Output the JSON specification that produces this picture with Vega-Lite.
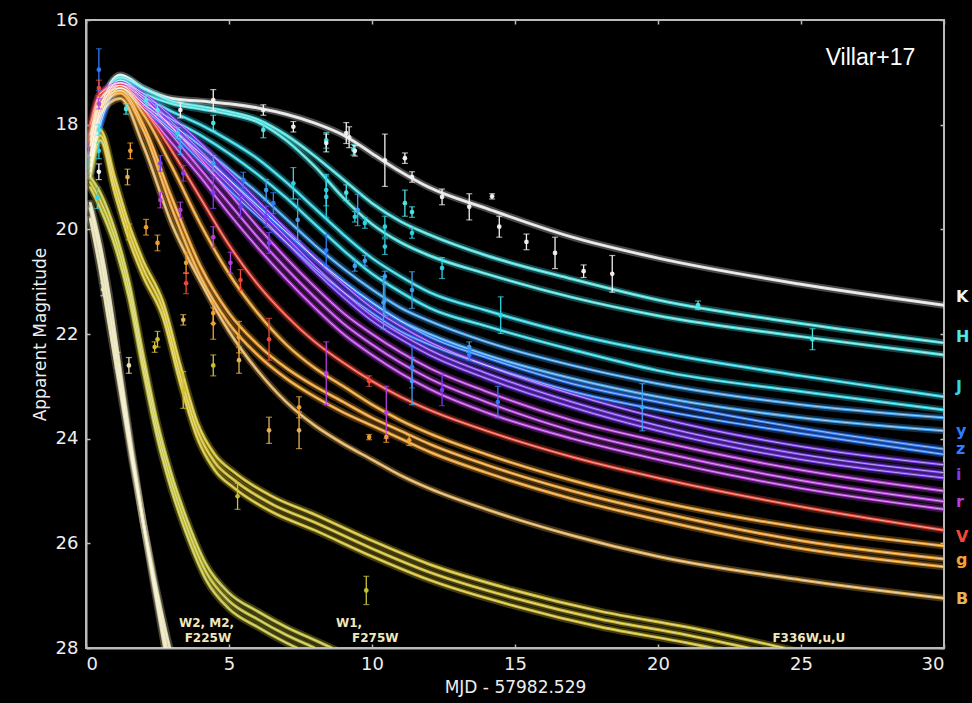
{
"$schema": "https://vega.github.io/schema/vega-lite/v6.json",
"width": 858, "height": 628,
"autosize": {"type": "none"},
"padding": {"left": 86, "top": 20, "right": 28, "bottom": 55},
"background": "#000000",
"config": {
  "view": {"stroke": "#bbbbbb", "strokeWidth": 2},
  "axis": {"domainColor": "#bbbbbb", "domainWidth": 2, "tickColor": "#bbbbbb", "tickSize": -4, "tickWidth": 1.5, "grid": false,
    "labelColor": "#eeeeee", "labelFont": "DejaVu Sans", "labelFontSize": 18, "labelPadding": 8,
    "titleColor": "#eeeeee", "titleFont": "DejaVu Sans", "titleFontSize": 17, "titleFontWeight": "normal"}
},
"resolve": {"axis": {"x": "independent", "y": "independent"}},
"datasets": {
"curves": [
{"c":"K","b":"K","x":0.15,"m":18.6},{"c":"K","b":"K","x":0.5,"m":17.7},{"c":"K","b":"K","x":1.2,"m":17.05},{"c":"K","b":"K","x":2,"m":17.3},{"c":"K","b":"K","x":3,"m":17.5},{"c":"K","b":"K","x":4,"m":17.55},{"c":"K","b":"K","x":5,"m":17.6},{"c":"K","b":"K","x":6,"m":17.68},{"c":"K","b":"K","x":7,"m":17.8},{"c":"K","b":"K","x":8,"m":17.97},{"c":"K","b":"K","x":9,"m":18.2},{"c":"K","b":"K","x":10,"m":18.55},{"c":"K","b":"K","x":11,"m":18.9},{"c":"K","b":"K","x":12,"m":19.2},{"c":"K","b":"K","x":14,"m":19.6},{"c":"K","b":"K","x":17,"m":20.15},{"c":"K","b":"K","x":20,"m":20.55},{"c":"K","b":"K","x":25,"m":21.05},{"c":"K","b":"K","x":30,"m":21.45},
{"c":"H1","b":"H","x":0.15,"m":18.6},{"c":"H1","b":"H","x":0.5,"m":17.7},{"c":"H1","b":"H","x":1.2,"m":17.1},{"c":"H1","b":"H","x":2,"m":17.3},{"c":"H1","b":"H","x":3,"m":17.55},{"c":"H1","b":"H","x":4,"m":17.65},{"c":"H1","b":"H","x":5,"m":17.75},{"c":"H1","b":"H","x":6,"m":17.9},{"c":"H1","b":"H","x":7,"m":18.2},{"c":"H1","b":"H","x":8,"m":18.6},{"c":"H1","b":"H","x":9,"m":19.05},{"c":"H1","b":"H","x":10,"m":19.5},{"c":"H1","b":"H","x":11,"m":19.85},{"c":"H1","b":"H","x":12,"m":20.1},{"c":"H1","b":"H","x":14,"m":20.5},{"c":"H1","b":"H","x":17,"m":20.95},{"c":"H1","b":"H","x":20,"m":21.35},{"c":"H1","b":"H","x":25,"m":21.8},{"c":"H1","b":"H","x":30,"m":22.17},
{"c":"H2","b":"H","x":0.15,"m":18.7},{"c":"H2","b":"H","x":0.5,"m":17.8},{"c":"H2","b":"H","x":1.2,"m":17.15},{"c":"H2","b":"H","x":2,"m":17.4},{"c":"H2","b":"H","x":3,"m":17.6},{"c":"H2","b":"H","x":4,"m":17.7},{"c":"H2","b":"H","x":5,"m":17.8},{"c":"H2","b":"H","x":6,"m":17.95},{"c":"H2","b":"H","x":7,"m":18.3},{"c":"H2","b":"H","x":8,"m":18.8},{"c":"H2","b":"H","x":9,"m":19.4},{"c":"H2","b":"H","x":10,"m":19.9},{"c":"H2","b":"H","x":11,"m":20.25},{"c":"H2","b":"H","x":12,"m":20.5},{"c":"H2","b":"H","x":14,"m":20.85},{"c":"H2","b":"H","x":17,"m":21.3},{"c":"H2","b":"H","x":20,"m":21.65},{"c":"H2","b":"H","x":25,"m":22.05},{"c":"H2","b":"H","x":30,"m":22.4},
{"c":"J1","b":"J","x":0.15,"m":18.7},{"c":"J1","b":"J","x":0.5,"m":17.8},{"c":"J1","b":"J","x":1.2,"m":17.15},{"c":"J1","b":"J","x":2,"m":17.45},{"c":"J1","b":"J","x":3,"m":17.75},{"c":"J1","b":"J","x":4,"m":18.0},{"c":"J1","b":"J","x":5,"m":18.3},{"c":"J1","b":"J","x":6,"m":18.65},{"c":"J1","b":"J","x":7,"m":19.1},{"c":"J1","b":"J","x":8,"m":19.6},{"c":"J1","b":"J","x":9,"m":20.1},{"c":"J1","b":"J","x":10,"m":20.55},{"c":"J1","b":"J","x":11,"m":20.9},{"c":"J1","b":"J","x":12,"m":21.2},{"c":"J1","b":"J","x":14,"m":21.55},{"c":"J1","b":"J","x":17,"m":22.0},{"c":"J1","b":"J","x":20,"m":22.35},{"c":"J1","b":"J","x":25,"m":22.8},{"c":"J1","b":"J","x":30,"m":23.2},
{"c":"J2","b":"J","x":0.15,"m":18.8},{"c":"J2","b":"J","x":0.5,"m":17.9},{"c":"J2","b":"J","x":1.2,"m":17.2},{"c":"J2","b":"J","x":2,"m":17.55},{"c":"J2","b":"J","x":3,"m":17.9},{"c":"J2","b":"J","x":4,"m":18.2},{"c":"J2","b":"J","x":5,"m":18.55},{"c":"J2","b":"J","x":6,"m":18.95},{"c":"J2","b":"J","x":7,"m":19.4},{"c":"J2","b":"J","x":8,"m":19.9},{"c":"J2","b":"J","x":9,"m":20.4},{"c":"J2","b":"J","x":10,"m":20.85},{"c":"J2","b":"J","x":11,"m":21.2},{"c":"J2","b":"J","x":12,"m":21.5},{"c":"J2","b":"J","x":14,"m":21.85},{"c":"J2","b":"J","x":17,"m":22.3},{"c":"J2","b":"J","x":20,"m":22.7},{"c":"J2","b":"J","x":25,"m":23.1},{"c":"J2","b":"J","x":30,"m":23.45},
{"c":"y1","b":"y","x":0.15,"m":18.8},{"c":"y1","b":"y","x":0.5,"m":17.9},{"c":"y1","b":"y","x":1.2,"m":17.25},{"c":"y1","b":"y","x":2,"m":17.6},{"c":"y1","b":"y","x":3,"m":18.0},{"c":"y1","b":"y","x":4,"m":18.4},{"c":"y1","b":"y","x":5,"m":18.85},{"c":"y1","b":"y","x":6,"m":19.3},{"c":"y1","b":"y","x":7,"m":19.8},{"c":"y1","b":"y","x":8,"m":20.3},{"c":"y1","b":"y","x":9,"m":20.75},{"c":"y1","b":"y","x":10,"m":21.15},{"c":"y1","b":"y","x":11,"m":21.5},{"c":"y1","b":"y","x":12,"m":21.75},{"c":"y1","b":"y","x":14,"m":22.15},{"c":"y1","b":"y","x":17,"m":22.6},{"c":"y1","b":"y","x":20,"m":22.95},{"c":"y1","b":"y","x":25,"m":23.35},{"c":"y1","b":"y","x":30,"m":23.6},
{"c":"y2","b":"y","x":0.15,"m":18.9},{"c":"y2","b":"y","x":0.5,"m":18.0},{"c":"y2","b":"y","x":1.2,"m":17.3},{"c":"y2","b":"y","x":2,"m":17.65},{"c":"y2","b":"y","x":3,"m":18.1},{"c":"y2","b":"y","x":4,"m":18.55},{"c":"y2","b":"y","x":5,"m":19.05},{"c":"y2","b":"y","x":6,"m":19.55},{"c":"y2","b":"y","x":7,"m":20.05},{"c":"y2","b":"y","x":8,"m":20.55},{"c":"y2","b":"y","x":9,"m":21.0},{"c":"y2","b":"y","x":10,"m":21.4},{"c":"y2","b":"y","x":11,"m":21.75},{"c":"y2","b":"y","x":12,"m":22.0},{"c":"y2","b":"y","x":14,"m":22.4},{"c":"y2","b":"y","x":17,"m":22.85},{"c":"y2","b":"y","x":20,"m":23.2},{"c":"y2","b":"y","x":25,"m":23.6},{"c":"y2","b":"y","x":30,"m":23.85},
{"c":"z1","b":"z","x":0.15,"m":18.9},{"c":"z1","b":"z","x":0.5,"m":17.9},{"c":"z1","b":"z","x":1.2,"m":17.3},{"c":"z1","b":"z","x":2,"m":17.6},{"c":"z1","b":"z","x":3,"m":18.05},{"c":"z1","b":"z","x":4,"m":18.55},{"c":"z1","b":"z","x":5,"m":19.05},{"c":"z1","b":"z","x":6,"m":19.55},{"c":"z1","b":"z","x":7,"m":20.05},{"c":"z1","b":"z","x":8,"m":20.55},{"c":"z1","b":"z","x":9,"m":21.0},{"c":"z1","b":"z","x":10,"m":21.4},{"c":"z1","b":"z","x":11,"m":21.75},{"c":"z1","b":"z","x":12,"m":22.05},{"c":"z1","b":"z","x":14,"m":22.45},{"c":"z1","b":"z","x":17,"m":22.95},{"c":"z1","b":"z","x":20,"m":23.3},{"c":"z1","b":"z","x":25,"m":23.8},{"c":"z1","b":"z","x":30,"m":24.2},
{"c":"z2","b":"z","x":0.15,"m":19.0},{"c":"z2","b":"z","x":0.5,"m":18.0},{"c":"z2","b":"z","x":1.2,"m":17.35},{"c":"z2","b":"z","x":2,"m":17.7},{"c":"z2","b":"z","x":3,"m":18.15},{"c":"z2","b":"z","x":4,"m":18.7},{"c":"z2","b":"z","x":5,"m":19.25},{"c":"z2","b":"z","x":6,"m":19.75},{"c":"z2","b":"z","x":7,"m":20.25},{"c":"z2","b":"z","x":8,"m":20.75},{"c":"z2","b":"z","x":9,"m":21.2},{"c":"z2","b":"z","x":10,"m":21.6},{"c":"z2","b":"z","x":11,"m":21.95},{"c":"z2","b":"z","x":12,"m":22.2},{"c":"z2","b":"z","x":14,"m":22.6},{"c":"z2","b":"z","x":17,"m":23.1},{"c":"z2","b":"z","x":20,"m":23.45},{"c":"z2","b":"z","x":25,"m":23.9},{"c":"z2","b":"z","x":30,"m":24.3},
{"c":"i1","b":"i","x":0.15,"m":18.4},{"c":"i1","b":"i","x":0.5,"m":17.5},{"c":"i1","b":"i","x":1.2,"m":17.2},{"c":"i1","b":"i","x":2,"m":17.4},{"c":"i1","b":"i","x":3,"m":17.85},{"c":"i1","b":"i","x":4,"m":18.35},{"c":"i1","b":"i","x":5,"m":18.9},{"c":"i1","b":"i","x":6,"m":19.45},{"c":"i1","b":"i","x":7,"m":20.0},{"c":"i1","b":"i","x":8,"m":20.55},{"c":"i1","b":"i","x":9,"m":21.05},{"c":"i1","b":"i","x":10,"m":21.5},{"c":"i1","b":"i","x":11,"m":21.85},{"c":"i1","b":"i","x":12,"m":22.15},{"c":"i1","b":"i","x":14,"m":22.6},{"c":"i1","b":"i","x":17,"m":23.15},{"c":"i1","b":"i","x":20,"m":23.6},{"c":"i1","b":"i","x":25,"m":24.15},{"c":"i1","b":"i","x":30,"m":24.5},
{"c":"i2","b":"i","x":0.15,"m":18.5},{"c":"i2","b":"i","x":0.5,"m":17.6},{"c":"i2","b":"i","x":1.2,"m":17.2},{"c":"i2","b":"i","x":2,"m":17.45},{"c":"i2","b":"i","x":3,"m":17.95},{"c":"i2","b":"i","x":4,"m":18.5},{"c":"i2","b":"i","x":5,"m":19.05},{"c":"i2","b":"i","x":6,"m":19.6},{"c":"i2","b":"i","x":7,"m":20.15},{"c":"i2","b":"i","x":8,"m":20.7},{"c":"i2","b":"i","x":9,"m":21.2},{"c":"i2","b":"i","x":10,"m":21.65},{"c":"i2","b":"i","x":11,"m":22.0},{"c":"i2","b":"i","x":12,"m":22.3},{"c":"i2","b":"i","x":14,"m":22.75},{"c":"i2","b":"i","x":17,"m":23.3},{"c":"i2","b":"i","x":20,"m":23.75},{"c":"i2","b":"i","x":25,"m":24.3},{"c":"i2","b":"i","x":30,"m":24.65},
{"c":"i3","b":"i","x":0.15,"m":18.6},{"c":"i3","b":"i","x":0.5,"m":17.7},{"c":"i3","b":"i","x":1.2,"m":17.25},{"c":"i3","b":"i","x":2,"m":17.5},{"c":"i3","b":"i","x":3,"m":18.05},{"c":"i3","b":"i","x":4,"m":18.6},{"c":"i3","b":"i","x":5,"m":19.15},{"c":"i3","b":"i","x":6,"m":19.7},{"c":"i3","b":"i","x":7,"m":20.25},{"c":"i3","b":"i","x":8,"m":20.8},{"c":"i3","b":"i","x":9,"m":21.3},{"c":"i3","b":"i","x":10,"m":21.75},{"c":"i3","b":"i","x":11,"m":22.1},{"c":"i3","b":"i","x":12,"m":22.4},{"c":"i3","b":"i","x":14,"m":22.85},{"c":"i3","b":"i","x":17,"m":23.4},{"c":"i3","b":"i","x":20,"m":23.85},{"c":"i3","b":"i","x":25,"m":24.4},{"c":"i3","b":"i","x":30,"m":24.75},
{"c":"r1","b":"r","x":0.15,"m":18.2},{"c":"r1","b":"r","x":0.5,"m":17.4},{"c":"r1","b":"r","x":1.2,"m":17.2},{"c":"r1","b":"r","x":2,"m":17.5},{"c":"r1","b":"r","x":3,"m":18.05},{"c":"r1","b":"r","x":4,"m":18.65},{"c":"r1","b":"r","x":5,"m":19.3},{"c":"r1","b":"r","x":6,"m":19.95},{"c":"r1","b":"r","x":7,"m":20.55},{"c":"r1","b":"r","x":8,"m":21.1},{"c":"r1","b":"r","x":9,"m":21.6},{"c":"r1","b":"r","x":10,"m":22.0},{"c":"r1","b":"r","x":11,"m":22.35},{"c":"r1","b":"r","x":12,"m":22.65},{"c":"r1","b":"r","x":14,"m":23.1},{"c":"r1","b":"r","x":17,"m":23.65},{"c":"r1","b":"r","x":20,"m":24.05},{"c":"r1","b":"r","x":25,"m":24.6},{"c":"r1","b":"r","x":30,"m":25.0},
{"c":"r2","b":"r","x":0.15,"m":18.3},{"c":"r2","b":"r","x":0.5,"m":17.5},{"c":"r2","b":"r","x":1.2,"m":17.25},{"c":"r2","b":"r","x":2,"m":17.6},{"c":"r2","b":"r","x":3,"m":18.2},{"c":"r2","b":"r","x":4,"m":18.85},{"c":"r2","b":"r","x":5,"m":19.5},{"c":"r2","b":"r","x":6,"m":20.15},{"c":"r2","b":"r","x":7,"m":20.75},{"c":"r2","b":"r","x":8,"m":21.3},{"c":"r2","b":"r","x":9,"m":21.8},{"c":"r2","b":"r","x":10,"m":22.2},{"c":"r2","b":"r","x":11,"m":22.55},{"c":"r2","b":"r","x":12,"m":22.85},{"c":"r2","b":"r","x":14,"m":23.3},{"c":"r2","b":"r","x":17,"m":23.85},{"c":"r2","b":"r","x":20,"m":24.25},{"c":"r2","b":"r","x":25,"m":24.8},{"c":"r2","b":"r","x":30,"m":25.2},
{"c":"r3","b":"r","x":0.15,"m":18.4},{"c":"r3","b":"r","x":0.5,"m":17.6},{"c":"r3","b":"r","x":1.2,"m":17.3},{"c":"r3","b":"r","x":2,"m":17.7},{"c":"r3","b":"r","x":3,"m":18.35},{"c":"r3","b":"r","x":4,"m":19.0},{"c":"r3","b":"r","x":5,"m":19.7},{"c":"r3","b":"r","x":6,"m":20.35},{"c":"r3","b":"r","x":7,"m":20.95},{"c":"r3","b":"r","x":8,"m":21.5},{"c":"r3","b":"r","x":9,"m":22.0},{"c":"r3","b":"r","x":10,"m":22.4},{"c":"r3","b":"r","x":11,"m":22.75},{"c":"r3","b":"r","x":12,"m":23.05},{"c":"r3","b":"r","x":14,"m":23.5},{"c":"r3","b":"r","x":17,"m":24.0},{"c":"r3","b":"r","x":20,"m":24.4},{"c":"r3","b":"r","x":25,"m":24.95},{"c":"r3","b":"r","x":30,"m":25.35},
{"c":"V1","b":"V","x":0.15,"m":18.0},{"c":"V1","b":"V","x":0.5,"m":17.4},{"c":"V1","b":"V","x":1.2,"m":17.25},{"c":"V1","b":"V","x":2,"m":17.7},{"c":"V1","b":"V","x":3,"m":18.5},{"c":"V1","b":"V","x":4,"m":19.4},{"c":"V1","b":"V","x":5,"m":20.3},{"c":"V1","b":"V","x":6,"m":21.05},{"c":"V1","b":"V","x":7,"m":21.65},{"c":"V1","b":"V","x":8,"m":22.15},{"c":"V1","b":"V","x":9,"m":22.55},{"c":"V1","b":"V","x":10,"m":22.9},{"c":"V1","b":"V","x":11,"m":23.2},{"c":"V1","b":"V","x":12,"m":23.45},{"c":"V1","b":"V","x":14,"m":23.85},{"c":"V1","b":"V","x":17,"m":24.35},{"c":"V1","b":"V","x":20,"m":24.75},{"c":"V1","b":"V","x":25,"m":25.3},{"c":"V1","b":"V","x":30,"m":25.75},
{"c":"g0","b":"g","x":0.15,"m":18.2},{"c":"g0","b":"g","x":0.5,"m":17.5},{"c":"g0","b":"g","x":1.2,"m":17.3},{"c":"g0","b":"g","x":2,"m":17.8},{"c":"g0","b":"g","x":3,"m":18.8},{"c":"g0","b":"g","x":4,"m":19.9},{"c":"g0","b":"g","x":5,"m":20.85},{"c":"g0","b":"g","x":6,"m":21.6},{"c":"g0","b":"g","x":7,"m":22.2},{"c":"g0","b":"g","x":8,"m":22.65},{"c":"g0","b":"g","x":9,"m":23.0},{"c":"g0","b":"g","x":10,"m":23.35},{"c":"g0","b":"g","x":11,"m":23.65},{"c":"g0","b":"g","x":12,"m":23.9},{"c":"g0","b":"g","x":14,"m":24.3},{"c":"g0","b":"g","x":17,"m":24.8},{"c":"g0","b":"g","x":20,"m":25.2},{"c":"g0","b":"g","x":25,"m":25.7},{"c":"g0","b":"g","x":30,"m":26.05},
{"c":"g1","b":"g","x":0.15,"m":18.3},{"c":"g1","b":"g","x":0.5,"m":17.6},{"c":"g1","b":"g","x":1.2,"m":17.35},{"c":"g1","b":"g","x":2,"m":18.0},{"c":"g1","b":"g","x":3,"m":19.4},{"c":"g1","b":"g","x":4,"m":20.7},{"c":"g1","b":"g","x":5,"m":21.6},{"c":"g1","b":"g","x":6,"m":22.2},{"c":"g1","b":"g","x":7,"m":22.65},{"c":"g1","b":"g","x":8,"m":23.0},{"c":"g1","b":"g","x":9,"m":23.3},{"c":"g1","b":"g","x":10,"m":23.6},{"c":"g1","b":"g","x":11,"m":23.85},{"c":"g1","b":"g","x":12,"m":24.1},{"c":"g1","b":"g","x":14,"m":24.5},{"c":"g1","b":"g","x":17,"m":25.0},{"c":"g1","b":"g","x":20,"m":25.4},{"c":"g1","b":"g","x":25,"m":25.95},{"c":"g1","b":"g","x":30,"m":26.3},
{"c":"g2","b":"g","x":0.15,"m":18.4},{"c":"g2","b":"g","x":0.5,"m":17.7},{"c":"g2","b":"g","x":1.2,"m":17.4},{"c":"g2","b":"g","x":2,"m":18.1},{"c":"g2","b":"g","x":3,"m":19.6},{"c":"g2","b":"g","x":4,"m":20.9},{"c":"g2","b":"g","x":5,"m":21.8},{"c":"g2","b":"g","x":6,"m":22.4},{"c":"g2","b":"g","x":7,"m":22.85},{"c":"g2","b":"g","x":8,"m":23.2},{"c":"g2","b":"g","x":9,"m":23.5},{"c":"g2","b":"g","x":10,"m":23.75},{"c":"g2","b":"g","x":11,"m":24.0},{"c":"g2","b":"g","x":12,"m":24.25},{"c":"g2","b":"g","x":14,"m":24.65},{"c":"g2","b":"g","x":17,"m":25.15},{"c":"g2","b":"g","x":20,"m":25.55},{"c":"g2","b":"g","x":25,"m":26.1},{"c":"g2","b":"g","x":30,"m":26.45},
{"c":"B1","b":"B","x":0.15,"m":18.6},{"c":"B1","b":"B","x":0.5,"m":17.8},{"c":"B1","b":"B","x":1.2,"m":17.5},{"c":"B1","b":"B","x":2,"m":18.4},{"c":"B1","b":"B","x":3,"m":19.9},{"c":"B1","b":"B","x":4,"m":21.0},{"c":"B1","b":"B","x":5,"m":21.95},{"c":"B1","b":"B","x":6,"m":22.7},{"c":"B1","b":"B","x":7,"m":23.3},{"c":"B1","b":"B","x":8,"m":23.75},{"c":"B1","b":"B","x":9,"m":24.1},{"c":"B1","b":"B","x":10,"m":24.4},{"c":"B1","b":"B","x":11,"m":24.7},{"c":"B1","b":"B","x":12,"m":24.95},{"c":"B1","b":"B","x":14,"m":25.35},{"c":"B1","b":"B","x":17,"m":25.85},{"c":"B1","b":"B","x":20,"m":26.25},{"c":"B1","b":"B","x":25,"m":26.7},{"c":"B1","b":"B","x":30,"m":27.05},
{"c":"U1","b":"U","x":0.15,"m":18.8},{"c":"U1","b":"U","x":0.5,"m":18.1},{"c":"U1","b":"U","x":1.0,"m":19.0},{"c":"U1","b":"U","x":1.5,"m":19.9},{"c":"U1","b":"U","x":2,"m":20.6},{"c":"U1","b":"U","x":2.7,"m":21.4},{"c":"U1","b":"U","x":3.3,"m":22.6},{"c":"U1","b":"U","x":3.9,"m":23.7},{"c":"U1","b":"U","x":4.5,"m":24.3},{"c":"U1","b":"U","x":5.2,"m":24.65},{"c":"U1","b":"U","x":6.5,"m":25.1},{"c":"U1","b":"U","x":8,"m":25.45},{"c":"U1","b":"U","x":10,"m":25.95},{"c":"U1","b":"U","x":12,"m":26.4},{"c":"U1","b":"U","x":15,"m":26.9},{"c":"U1","b":"U","x":18,"m":27.3},{"c":"U1","b":"U","x":21,"m":27.6},{"c":"U1","b":"U","x":24,"m":27.95},{"c":"U1","b":"U","x":26,"m":28.2},
{"c":"U2","b":"U","x":0.15,"m":18.9},{"c":"U2","b":"U","x":0.5,"m":18.2},{"c":"U2","b":"U","x":1.0,"m":19.15},{"c":"U2","b":"U","x":1.5,"m":20.05},{"c":"U2","b":"U","x":2,"m":20.75},{"c":"U2","b":"U","x":2.7,"m":21.55},{"c":"U2","b":"U","x":3.3,"m":22.8},{"c":"U2","b":"U","x":3.9,"m":23.85},{"c":"U2","b":"U","x":4.5,"m":24.45},{"c":"U2","b":"U","x":5.2,"m":24.8},{"c":"U2","b":"U","x":6.5,"m":25.25},{"c":"U2","b":"U","x":8,"m":25.6},{"c":"U2","b":"U","x":10,"m":26.1},{"c":"U2","b":"U","x":12,"m":26.55},{"c":"U2","b":"U","x":15,"m":27.05},{"c":"U2","b":"U","x":18,"m":27.45},{"c":"U2","b":"U","x":21,"m":27.75},{"c":"U2","b":"U","x":24,"m":28.1},{"c":"U2","b":"U","x":26,"m":28.35},
{"c":"U3","b":"U","x":0.15,"m":19.0},{"c":"U3","b":"U","x":0.5,"m":18.3},{"c":"U3","b":"U","x":1.0,"m":19.3},{"c":"U3","b":"U","x":1.5,"m":20.2},{"c":"U3","b":"U","x":2,"m":20.9},{"c":"U3","b":"U","x":2.7,"m":21.7},{"c":"U3","b":"U","x":3.3,"m":22.95},{"c":"U3","b":"U","x":3.9,"m":24.0},{"c":"U3","b":"U","x":4.5,"m":24.6},{"c":"U3","b":"U","x":5.2,"m":24.95},{"c":"U3","b":"U","x":6.5,"m":25.4},{"c":"U3","b":"U","x":8,"m":25.75},{"c":"U3","b":"U","x":10,"m":26.25},{"c":"U3","b":"U","x":12,"m":26.7},{"c":"U3","b":"U","x":15,"m":27.2},{"c":"U3","b":"U","x":18,"m":27.6},{"c":"U3","b":"U","x":21,"m":27.9},{"c":"U3","b":"U","x":24,"m":28.25},{"c":"U3","b":"U","x":26,"m":28.5},
{"c":"W1a","b":"W1","x":0.15,"m":19.0},{"c":"W1a","b":"W1","x":0.5,"m":19.3},{"c":"W1a","b":"W1","x":1.0,"m":20.0},{"c":"W1a","b":"W1","x":1.5,"m":21.0},{"c":"W1a","b":"W1","x":2,"m":22.4},{"c":"W1a","b":"W1","x":2.5,"m":23.7},{"c":"W1a","b":"W1","x":3,"m":24.7},{"c":"W1a","b":"W1","x":3.5,"m":25.5},{"c":"W1a","b":"W1","x":4.2,"m":26.4},{"c":"W1a","b":"W1","x":5,"m":26.95},{"c":"W1a","b":"W1","x":6,"m":27.3},{"c":"W1a","b":"W1","x":7,"m":27.6},{"c":"W1a","b":"W1","x":8,"m":27.85},{"c":"W1a","b":"W1","x":9,"m":28.1},{"c":"W1a","b":"W1","x":10,"m":28.35},
{"c":"W1b","b":"W1","x":0.15,"m":19.1},{"c":"W1b","b":"W1","x":0.5,"m":19.45},{"c":"W1b","b":"W1","x":1.0,"m":20.15},{"c":"W1b","b":"W1","x":1.5,"m":21.15},{"c":"W1b","b":"W1","x":2,"m":22.55},{"c":"W1b","b":"W1","x":2.5,"m":23.85},{"c":"W1b","b":"W1","x":3,"m":24.85},{"c":"W1b","b":"W1","x":3.5,"m":25.65},{"c":"W1b","b":"W1","x":4.2,"m":26.55},{"c":"W1b","b":"W1","x":5,"m":27.1},{"c":"W1b","b":"W1","x":6,"m":27.45},{"c":"W1b","b":"W1","x":7,"m":27.75},{"c":"W1b","b":"W1","x":8,"m":28.0},{"c":"W1b","b":"W1","x":9,"m":28.25},{"c":"W1b","b":"W1","x":10,"m":28.5},
{"c":"W1c","b":"W1","x":0.15,"m":19.2},{"c":"W1c","b":"W1","x":0.5,"m":19.6},{"c":"W1c","b":"W1","x":1.0,"m":20.3},{"c":"W1c","b":"W1","x":1.5,"m":21.3},{"c":"W1c","b":"W1","x":2,"m":22.7},{"c":"W1c","b":"W1","x":2.5,"m":24.0},{"c":"W1c","b":"W1","x":3,"m":25.0},{"c":"W1c","b":"W1","x":3.5,"m":25.8},{"c":"W1c","b":"W1","x":4.2,"m":26.7},{"c":"W1c","b":"W1","x":5,"m":27.25},{"c":"W1c","b":"W1","x":6,"m":27.6},{"c":"W1c","b":"W1","x":7,"m":27.9},{"c":"W1c","b":"W1","x":8,"m":28.15},{"c":"W1c","b":"W1","x":9,"m":28.4},{"c":"W1c","b":"W1","x":10,"m":28.65},
{"c":"W2a","b":"W2","x":0.15,"m":19.5},{"c":"W2a","b":"W2","x":0.5,"m":20.3},{"c":"W2a","b":"W2","x":0.8,"m":21.2},{"c":"W2a","b":"W2","x":1.2,"m":22.7},{"c":"W2a","b":"W2","x":1.6,"m":24.2},{"c":"W2a","b":"W2","x":2,"m":25.6},{"c":"W2a","b":"W2","x":2.4,"m":26.9},{"c":"W2a","b":"W2","x":2.8,"m":28.15},{"c":"W2a","b":"W2","x":3.2,"m":29.3},
{"c":"W2b","b":"W2","x":0.15,"m":19.6},{"c":"W2b","b":"W2","x":0.5,"m":20.5},{"c":"W2b","b":"W2","x":0.8,"m":21.5},{"c":"W2b","b":"W2","x":1.2,"m":22.9},{"c":"W2b","b":"W2","x":1.6,"m":24.3},{"c":"W2b","b":"W2","x":2,"m":25.6},{"c":"W2b","b":"W2","x":2.4,"m":26.8},{"c":"W2b","b":"W2","x":2.8,"m":27.95},{"c":"W2b","b":"W2","x":3.2,"m":29.0},
{"c":"W2c","b":"W2","x":0.15,"m":19.8},{"c":"W2c","b":"W2","x":0.5,"m":20.8},{"c":"W2c","b":"W2","x":0.8,"m":21.8},{"c":"W2c","b":"W2","x":1.2,"m":23.1},{"c":"W2c","b":"W2","x":1.6,"m":24.4},{"c":"W2c","b":"W2","x":2,"m":25.6},{"c":"W2c","b":"W2","x":2.4,"m":26.7},{"c":"W2c","b":"W2","x":2.8,"m":27.7},{"c":"W2c","b":"W2","x":3.2,"m":28.6}
],
"pts": [
{"b":"z","x":0.45,"m":16.95,"lo":16.55,"hi":17.35},{"b":"V","x":0.45,"m":17.3,"lo":17.15,"hi":17.45},{"b":"r","x":0.45,"m":17.6,"lo":17.5,"hi":17.7},{"b":"H","x":0.45,"m":18.1,"lo":18.0,"hi":18.2},{"b":"J","x":0.45,"m":18.5,"lo":18.35,"hi":18.65},{"b":"K","x":0.45,"m":18.9,"lo":18.75,"hi":19.05},{"b":"J","x":0.4,"m":19.4,"lo":19.2,"hi":19.6},{"b":"W2","x":0.6,"m":21.15,"lo":21.03,"hi":21.27},
{"b":"H","x":1.4,"m":17.7,"lo":17.6,"hi":17.8},{"b":"B","x":1.45,"m":19.0,"lo":18.85,"hi":19.15},{"b":"U","x":1.5,"m":20.05,"lo":19.9,"hi":20.2},{"b":"g","x":1.55,"m":18.5,"lo":18.35,"hi":18.65},{"b":"W2","x":1.1,"m":22.5,"lo":22.35,"hi":22.65},{"b":"W2","x":1.5,"m":22.6,"lo":22.45,"hi":22.75},
{"b":"H","x":2.1,"m":17.53,"lo":17.43,"hi":17.63},{"b":"H","x":2.5,"m":17.72,"lo":17.62,"hi":17.82},{"b":"K","x":3.3,"m":17.72,"lo":17.57,"hi":17.87},{"b":"J","x":3.2,"m":18.16,"lo":18.06,"hi":18.26},{"b":"K","x":4.45,"m":17.53,"lo":17.33,"hi":17.73},{"b":"H","x":4.45,"m":17.97,"lo":17.82,"hi":18.12},{"b":"K","x":6.2,"m":17.72,"lo":17.62,"hi":17.82},{"b":"H","x":6.2,"m":18.1,"lo":17.95,"hi":18.25},{"b":"K","x":7.25,"m":18.04,"lo":17.94,"hi":18.14},{"b":"H","x":8.4,"m":18.3,"lo":18.15,"hi":18.45},{"b":"K","x":9.1,"m":18.16,"lo":17.96,"hi":18.36},{"b":"H","x":9.35,"m":18.48,"lo":18.38,"hi":18.58},
{"b":"y","x":3.3,"m":18.42,"lo":18.27,"hi":18.57},{"b":"y","x":4.45,"m":18.74,"lo":18.59,"hi":18.89},{"b":"z","x":5.5,"m":19.06,"lo":18.91,"hi":19.21},{"b":"y","x":6.3,"m":19.25,"lo":19.05,"hi":19.45},{"b":"J","x":7.25,"m":19.12,"lo":18.82,"hi":19.42},{"b":"J","x":8.4,"m":19.25,"lo":18.95,"hi":19.55},{"b":"y","x":9.5,"m":19.63,"lo":19.33,"hi":19.93},{"b":"z","x":6.55,"m":19.5,"lo":19.3,"hi":19.7},{"b":"z","x":8.4,"m":20.4,"lo":20.1,"hi":20.7},{"b":"y","x":7.4,"m":19.82,"lo":19.42,"hi":20.22},
{"b":"i","x":4.45,"m":19.3,"lo":19.0,"hi":19.6},{"b":"i","x":5.4,"m":19.57,"lo":19.37,"hi":19.77},{"b":"i","x":6.3,"m":19.76,"lo":19.56,"hi":19.96},{"b":"i","x":6.4,"m":20.26,"lo":20.06,"hi":20.46},{"b":"i","x":2.6,"m":18.74,"lo":18.59,"hi":18.89},{"b":"i","x":3.4,"m":18.93,"lo":18.78,"hi":19.08},
{"b":"r","x":2.6,"m":19.44,"lo":19.29,"hi":19.59},{"b":"r","x":3.3,"m":19.63,"lo":19.48,"hi":19.78},{"b":"r","x":4.45,"m":20.15,"lo":19.95,"hi":20.35},{"b":"r","x":5.05,"m":20.64,"lo":20.44,"hi":20.84},{"b":"V","x":5.4,"m":20.97,"lo":20.77,"hi":21.17},
{"b":"g","x":2.1,"m":19.96,"lo":19.81,"hi":20.11},{"b":"g","x":2.5,"m":20.26,"lo":20.11,"hi":20.41},{"b":"g","x":3.5,"m":20.64,"lo":20.44,"hi":20.84},{"b":"V","x":3.5,"m":21.03,"lo":20.83,"hi":21.23},{"b":"g","x":4.45,"m":21.6,"lo":21.4,"hi":21.8},{"b":"B","x":3.4,"m":21.73,"lo":21.63,"hi":21.83},{"b":"g","x":4.45,"m":21.8,"lo":21.5,"hi":22.1},{"b":"g","x":5.35,"m":22.06,"lo":21.76,"hi":22.36},{"b":"B","x":5.35,"m":22.5,"lo":22.25,"hi":22.75},{"b":"V","x":6.4,"m":22.1,"lo":21.7,"hi":22.5},{"b":"B","x":6.4,"m":23.84,"lo":23.59,"hi":24.09},{"b":"B","x":7.45,"m":23.84,"lo":23.49,"hi":24.19},{"b":"g","x":7.45,"m":23.4,"lo":23.2,"hi":23.6},{"b":"g","x":9.9,"m":23.97,"lo":23.92,"hi":24.02},{"b":"g","x":10.5,"m":23.97,"lo":23.87,"hi":24.07},{"b":"g","x":11.3,"m":24.03,"lo":23.93,"hi":24.13},
{"b":"U","x":2.5,"m":22.1,"lo":21.95,"hi":22.25},{"b":"U","x":2.4,"m":22.25,"lo":22.15,"hi":22.35},{"b":"U","x":3.4,"m":23.07,"lo":22.72,"hi":23.42},{"b":"U","x":4.45,"m":22.6,"lo":22.4,"hi":22.8},{"b":"W1","x":5.3,"m":25.1,"lo":24.85,"hi":25.35},{"b":"W1","x":9.8,"m":26.9,"lo":26.63,"hi":27.17},
{"b":"r","x":8.4,"m":22.75,"lo":22.15,"hi":23.35},{"b":"V","x":9.9,"m":22.9,"lo":22.8,"hi":23.0},{"b":"r","x":10.5,"m":23.5,"lo":23.0,"hi":24.0},
{"b":"y","x":10.4,"m":21.4,"lo":20.9,"hi":21.9},{"b":"z","x":11.4,"m":22.63,"lo":22.23,"hi":23.03},{"b":"y","x":11.4,"m":22.9,"lo":22.45,"hi":23.35},{"b":"i","x":12.45,"m":23.07,"lo":22.77,"hi":23.37},{"b":"z","x":14.4,"m":23.3,"lo":23.0,"hi":23.6},{"b":"y","x":19.45,"m":23.4,"lo":22.95,"hi":23.85},{"b":"z","x":13.4,"m":22.4,"lo":22.3,"hi":22.5},
{"b":"J","x":8.4,"m":19.38,"lo":18.98,"hi":19.78},{"b":"H","x":9.1,"m":19.3,"lo":19.15,"hi":19.45},{"b":"J","x":9.4,"m":19.76,"lo":19.66,"hi":19.86},{"b":"J","x":9.75,"m":19.88,"lo":19.78,"hi":19.98},{"b":"y","x":9.75,"m":20.6,"lo":20.5,"hi":20.7},{"b":"J","x":10.45,"m":19.95,"lo":19.75,"hi":20.15},{"b":"J","x":10.45,"m":20.33,"lo":20.18,"hi":20.48},{"b":"H","x":11.15,"m":19.5,"lo":19.25,"hi":19.75},{"b":"H","x":11.4,"m":19.67,"lo":19.57,"hi":19.77},{"b":"J","x":11.4,"m":20.07,"lo":19.97,"hi":20.17},{"b":"J","x":12.45,"m":20.74,"lo":20.54,"hi":20.94},{"b":"J","x":14.5,"m":21.64,"lo":21.29,"hi":21.99},{"b":"y","x":11.4,"m":21.16,"lo":20.81,"hi":21.51},{"b":"y","x":10.45,"m":21.35,"lo":21.05,"hi":21.65},{"b":"y","x":9.4,"m":20.7,"lo":20.6,"hi":20.8},{"b":"y","x":10.45,"m":20.9,"lo":20.8,"hi":21.0},{"b":"y","x":13.4,"m":22.25,"lo":22.15,"hi":22.35},
{"b":"K","x":8.4,"m":18.35,"lo":18.18,"hi":18.52},{"b":"K","x":9.2,"m":18.24,"lo":18.04,"hi":18.44},{"b":"K","x":9.4,"m":18.5,"lo":18.4,"hi":18.6},{"b":"K","x":10.45,"m":18.68,"lo":18.18,"hi":19.18},{"b":"K","x":11.15,"m":18.64,"lo":18.54,"hi":18.74},{"b":"K","x":11.4,"m":19.0,"lo":18.9,"hi":19.1},{"b":"K","x":12.45,"m":19.38,"lo":19.23,"hi":19.53},{"b":"K","x":13.4,"m":19.57,"lo":19.32,"hi":19.82},{"b":"K","x":14.2,"m":19.37,"lo":19.32,"hi":19.42},{"b":"K","x":14.45,"m":19.95,"lo":19.75,"hi":20.15},{"b":"K","x":15.4,"m":20.24,"lo":20.09,"hi":20.39},{"b":"K","x":16.4,"m":20.45,"lo":20.15,"hi":20.75},{"b":"K","x":17.4,"m":20.8,"lo":20.68,"hi":20.92},{"b":"K","x":18.4,"m":20.85,"lo":20.5,"hi":21.2},{"b":"H","x":21.4,"m":21.45,"lo":21.37,"hi":21.53},{"b":"H","x":25.4,"m":22.1,"lo":21.9,"hi":22.3}
],
"labels": [
{"t":"K","b":"K","x":30,"m":21.29},{"t":"H","b":"H","x":30,"m":22.06},{"t":"J","b":"J","x":30,"m":23.01},{"t":"y","b":"z","x":30,"m":23.85},{"t":"z","b":"z","x":30,"m":24.2},{"t":"i","b":"i","x":30,"m":24.7},{"t":"r","b":"r","x":30,"m":25.21},{"t":"V","b":"V","x":30,"m":25.88},{"t":"g","b":"g","x":30,"m":26.32},{"t":"B","b":"B","x":30,"m":27.06}
],
"notes": [
{"t":"W2, M2,","x":3.25,"m":27.52},{"t":"F225W","x":3.45,"m":27.8},{"t":"W1,","x":8.74,"m":27.52},{"t":"F275W","x":9.3,"m":27.8},{"t":"F336W,u,U","x":24.0,"m":27.8}
]
},
"layer": [
{"data": {"name": "curves"}, "mark": {"type": "line", "interpolate": "monotone", "strokeWidth": 7, "opacity": 0.3, "clip": true, "strokeCap": "round"},
 "encoding": {
  "x": {"field": "x", "type": "quantitative", "scale": {"domain": [0, 30], "nice": false},
        "axis": {"values": [0,5,10,15,20,25,30], "title": "MJD - 57982.529", "titlePadding": 6, "labelPadding": 11}},
  "y": {"field": "m", "type": "quantitative", "scale": {"domain": [16, 28], "reverse": true, "nice": false, "zero": false},
        "axis": {"values": [16,18,20,22,24,26,28], "title": "Apparent Magnitude", "titlePadding": 6, "labelPadding": 12}},
  "color": {"field": "b", "type": "nominal", "legend": null,
    "scale": {"domain": ["K","H","J","y","z","i","r","V","g","B","U","W1","W2"],
              "range": ["#f2f2f2","#4fe6e6","#2fd6e6","#3fa2f2","#2f7cff","#7a3cf2","#b83ee0","#f04a3a","#f2a230","#e8b45a","#d6c22e","#c8c43a","#ece6b8"]}},
  "detail": {"field": "c", "type": "nominal"}
 }},
{"data": {"name": "curves"}, "mark": {"type": "line", "interpolate": "monotone", "strokeWidth": 3, "opacity": 0.9, "clip": true, "strokeCap": "round"},
 "encoding": {"x": {"field": "x", "type": "quantitative", "axis": null}, "y": {"field": "m", "type": "quantitative", "axis": null}, "color": {"field": "b", "type": "nominal"}, "detail": {"field": "c", "type": "nominal"}}},
{"data": {"name": "curves"}, "mark": {"type": "line", "interpolate": "monotone", "strokeWidth": 0.9, "opacity": 0.6, "clip": true, "color": "#ffffff"},
 "encoding": {"x": {"field": "x", "type": "quantitative", "axis": null}, "y": {"field": "m", "type": "quantitative", "axis": null}, "detail": {"field": "c", "type": "nominal"}}},
{"data": {"name": "pts"}, "mark": {"type": "rule", "strokeWidth": 1.3, "clip": true},
 "encoding": {"x": {"field": "x", "type": "quantitative", "axis": null}, "y": {"field": "lo", "type": "quantitative", "axis": null}, "y2": {"field": "hi"}, "color": {"field": "b", "type": "nominal"}}},
{"data": {"name": "pts"}, "mark": {"type": "tick", "orient": "horizontal", "size": 6, "thickness": 1.2, "clip": true},
 "encoding": {"x": {"field": "x", "type": "quantitative", "axis": null}, "y": {"field": "lo", "type": "quantitative", "axis": null}, "color": {"field": "b", "type": "nominal"}}},
{"data": {"name": "pts"}, "mark": {"type": "tick", "orient": "horizontal", "size": 6, "thickness": 1.2, "clip": true},
 "encoding": {"x": {"field": "x", "type": "quantitative", "axis": null}, "y": {"field": "hi", "type": "quantitative", "axis": null}, "color": {"field": "b", "type": "nominal"}}},
{"data": {"name": "pts"}, "mark": {"type": "point", "filled": true, "size": 22, "opacity": 0.95, "clip": true},
 "encoding": {"x": {"field": "x", "type": "quantitative", "axis": null}, "y": {"field": "m", "type": "quantitative", "axis": null}, "color": {"field": "b", "type": "nominal"}}},
{"data": {"name": "labels"}, "mark": {"type": "text", "align": "left", "baseline": "middle", "dx": 12, "font": "DejaVu Sans", "fontSize": 16, "fontWeight": "bold"},
 "encoding": {"x": {"field": "x", "type": "quantitative", "axis": null}, "y": {"field": "m", "type": "quantitative", "axis": null}, "text": {"field": "t"}, "color": {"field": "b", "type": "nominal"}}},
{"data": {"name": "notes"}, "mark": {"type": "text", "align": "left", "baseline": "middle", "font": "DejaVu Sans", "fontSize": 12, "fontWeight": "bold", "color": "#f0e8bc"},
 "encoding": {"x": {"field": "x", "type": "quantitative", "axis": null}, "y": {"field": "m", "type": "quantitative", "axis": null}, "text": {"field": "t"}}},
{"data": {"values": [{"t": "Villar+17", "x": 29, "m": 16.72}]}, "mark": {"type": "text", "align": "right", "baseline": "middle", "font": "Liberation Sans", "fontSize": 23, "color": "#ffffff"},
 "encoding": {
  "x": {"field": "x", "type": "quantitative", "axis": {"orient": "top", "values": [0,5,10,15,20,25,30], "labels": false, "domain": false, "title": null}},
  "y": {"field": "m", "type": "quantitative", "axis": {"orient": "right", "values": [16,18,20,22,24,26,28], "labels": false, "domain": false, "title": null}},
  "text": {"field": "t"}}}
]
}
